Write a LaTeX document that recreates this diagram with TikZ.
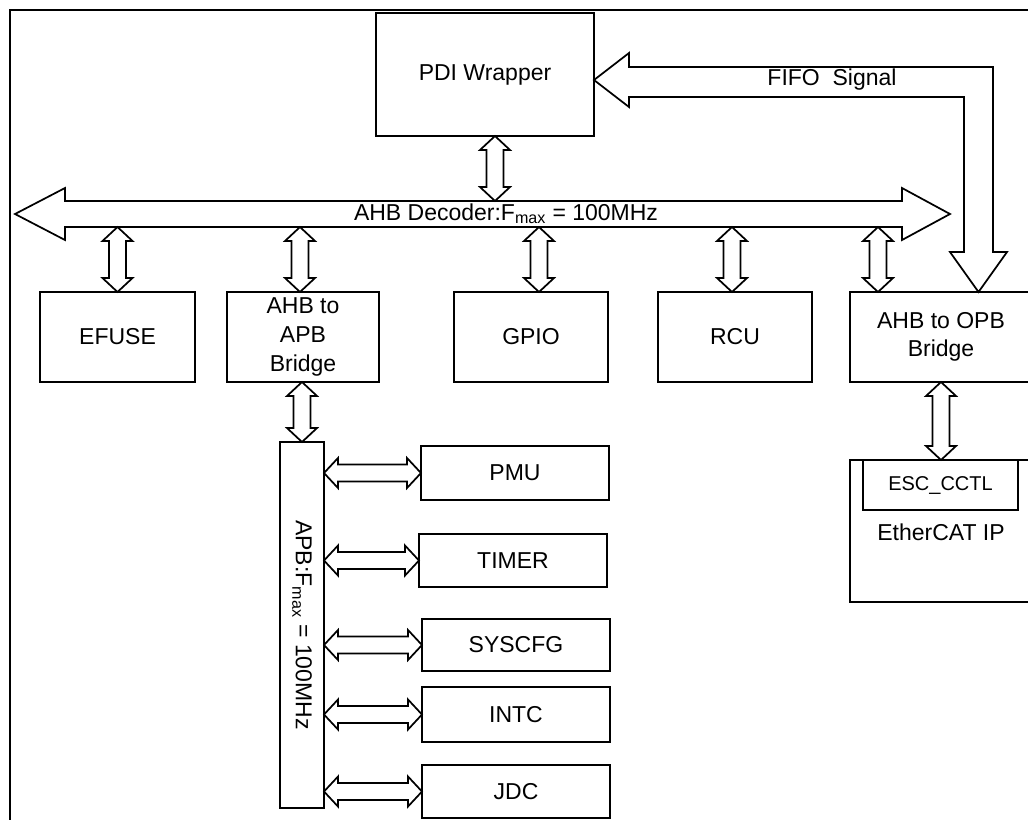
\documentclass[tikz,border=0pt]{standalone}
\usepackage{fontspec}
\setmainfont{Liberation Sans}
\usetikzlibrary{calc}
\newcommand\fatHW{11.25pt}
\newcommand\fatSW{6.4pt}
\newcommand\fatHL{10.5pt}
\newcommand\vdbl[2]{\draw[fat] let \p1=#1, \p2=#2 in
  (\x1,\y1) -- (\x1+\fatHW,\y1-\fatHL) -- (\x1+\fatSW,\y1-\fatHL) -- (\x1+\fatSW,\y2+\fatHL)
  -- (\x1+\fatHW,\y2+\fatHL) -- (\x1,\y2) -- (\x1-\fatHW,\y2+\fatHL) -- (\x1-\fatSW,\y2+\fatHL)
  -- (\x1-\fatSW,\y1-\fatHL) -- (\x1-\fatHW,\y1-\fatHL) -- cycle;}
\newcommand\hdbl[2]{\draw[fat] let \p1=#1, \p2=#2 in
  (\x1,\y1) -- (\x1+\fatHL,\y1+\fatHW) -- (\x1+\fatHL,\y1+\fatSW) -- (\x2-\fatHL,\y1+\fatSW)
  -- (\x2-\fatHL,\y1+\fatHW) -- (\x2,\y1) -- (\x2-\fatHL,\y1-\fatHW) -- (\x2-\fatHL,\y1-\fatSW)
  -- (\x1+\fatHL,\y1-\fatSW) -- (\x1+\fatHL,\y1-\fatHW) -- cycle;}
\tikzset{
  box/.style={draw, line width=1.3pt, inner sep=0pt, outer sep=0pt, align=center,
    font=\fontsize{17.25}{21.5}\selectfont},
  wh/.style 2 args={minimum width=#1*0.75pt, minimum height=#2*0.75pt},
  fat/.style={draw, line width=1.3pt, fill=white, line join=miter},
  lbl/.style={inner sep=0pt, align=center, font=\fontsize{17.25}{21.5}\selectfont},
}
\begin{document}
\begin{tikzpicture}[x=0.75pt, y=-0.75pt]
\useasboundingbox (0,0) rectangle (1028,819);
\clip (0,0) rectangle (1028,819);
\fill[white] (0,0) rectangle (1028,819);
% frame
\draw[line width=1.7pt] (10,840) -- (10,10) -- (1045,10);

% boxes
\node[box, wh={218}{123}] (PDI) at (485,74.5) {PDI Wrapper};
\node[box, wh={155}{90}] (EFUSE) at (117.5,337) {EFUSE};
\node[box, wh={152}{90}] (AB) at (303,337) {AHB to\\APB\\Bridge};
\node[box, wh={154}{90}] (GPIO) at (531,337) {GPIO};
\node[box, wh={154}{90}] (RCU) at (735,337) {RCU};
\node[box, wh={190}{90}] (OPB) at (945,337) {};
\node[lbl] (OPBt) at (941,337) {AHB to OPB\\Bridge};
\node[box, wh={190}{142}] (ECAT) at (945,531) {};
\node[box, wh={155}{50}, font=\fontsize{15}{18}\selectfont] (ESC) at (940.5,485) {ESC\_CCTL};
\node[lbl] (ECATt) at (941,532) {EtherCAT IP};
\node[box, wh={44}{366}] (APB) at (302,625) {};
\node[lbl, rotate=-90] (APBt) at (302,625) {APB:F\textsubscript{max} = 100MHz};
\node[box, wh={188}{54}] (PMU) at (515,473) {PMU};
\node[box, wh={188}{53}] (TIMER) at (513,560.5) {TIMER};
\node[box, wh={188}{52}] (SYSCFG) at (516,645) {SYSCFG};
\node[box, wh={188}{55}] (INTC) at (516,714.5) {INTC};
\node[box, wh={188}{53}] (JDC) at (516,791.5) {JDC};

% AHB bus
\coordinate (busT) at (0,201);
\coordinate (busB) at (0,227);
\draw[fat] (15,214) -- (65,188) -- (65,201) -- (902,201) -- (902,188) -- (950,214)
  -- (902,240) -- (902,227) -- (65,227) -- (65,240) -- cycle;
\node[lbl] (bus) at (506,214) {AHB Decoder:F\textsubscript{max} = 100MHz};

% FIFO signal arrow
\coordinate (fx) at (978.5,0);
\draw[fat] (PDI.east |- 0,80) -- (629,53) -- (629,67) -- (993,67) -- (993,252) -- (1007,252)
  -- (fx |- OPB.north) -- (950,252) -- (964,252) -- (964,97) -- (629,97) -- (629,107) -- cycle;
\node[lbl] (fifo) at (832,80) {FIFO\ \ Signal};

% vertical connectors
\vdbl{([xshift=7.5pt]PDI.south)}{([xshift=7.5pt]PDI.south |- busT)}
\vdbl{(EFUSE.north |- busB)}{(EFUSE.north)}
\vdbl{([xshift=-2.25pt]AB.north |- busB)}{([xshift=-2.25pt]AB.north)}
\vdbl{([xshift=6pt]GPIO.north |- busB)}{([xshift=6pt]GPIO.north)}
\vdbl{([xshift=-2.25pt]RCU.north |- busB)}{([xshift=-2.25pt]RCU.north)}
\coordinate (ox) at (878,0);
\vdbl{(ox |- busB)}{(ox |- OPB.north)}
\coordinate (ex) at (941,0);
\vdbl{(ex |- OPB.south)}{(ex |- ECAT.north)}
\vdbl{(APB.north |- AB.south)}{(APB.north)}

% horizontal connectors
\hdbl{(APB.east |- PMU.west)}{(PMU.west)}
\hdbl{(APB.east |- TIMER.west)}{(TIMER.west)}
\hdbl{(APB.east |- SYSCFG.west)}{(SYSCFG.west)}
\hdbl{(APB.east |- INTC.west)}{(INTC.west)}
\hdbl{(APB.east |- JDC.west)}{(JDC.west)}
\end{tikzpicture}
\end{document}
